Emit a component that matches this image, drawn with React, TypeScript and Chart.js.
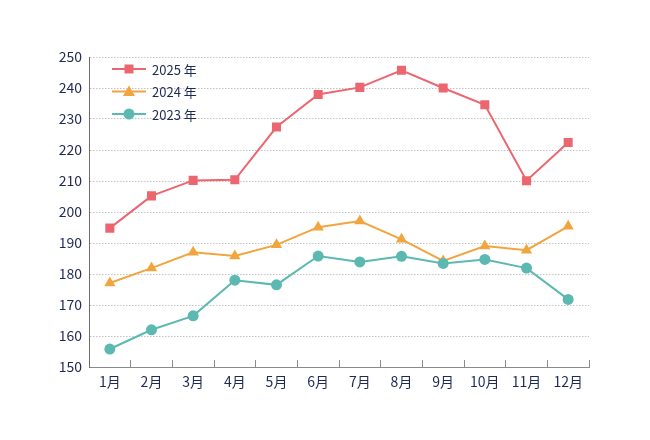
import React, { useEffect, useRef } from 'react'
import { Chart, registerables } from 'chart.js'

Chart.register(...registerables)

const months = ['1月', '2月', '3月', '4月', '5月', '6月', '7月', '8月', '9月', '10月', '11月', '12月']
const sales2025 = [194.8, 205.2, 210.2, 210.4, 227.4, 237.9, 240.2, 245.7, 240.0, 234.6, 210.1, 222.4]
const sales2024 = [177.1, 181.9, 187.0, 185.8, 189.4, 195.1, 197.1, 191.2, 184.2, 189.0, 187.7, 195.4]
const sales2023 = [155.8, 162.0, 166.5, 178.0, 176.5, 185.8, 183.9, 185.7, 183.4, 184.7, 181.9, 171.8]
const yTicks = [150, 160, 170, 180, 190, 200, 210, 220, 230, 240, 250]

const RED = '#ec6670'
const ORANGE = '#f1a53f'
const TEAL = '#5cb9b1'
const NAVY = '#1e2a55'
const FONT = "'Noto Sans CJK JP', 'Noto Sans', sans-serif"

// draws one marker shape centred on x,y
function drawMarker(ctx: CanvasRenderingContext2D, style: string, x: number, y: number, color: string) {
	ctx.fillStyle = color
	ctx.beginPath()
	if (style === 'rect') {
		ctx.rect(x - 4.5, y - 4.5, 9, 9)
	} else if (style === 'triangle') {
		ctx.moveTo(x, y - 6)
		ctx.lineTo(x + 6, y + 4.5)
		ctx.lineTo(x - 6, y + 4.5)
		ctx.closePath()
	} else {
		ctx.arc(x, y, 5.5, 0, Math.PI * 2)
	}
	ctx.fill()
}

// legend with a line through each marker, inside the top left of the plot
const lineLegend = {
	id: 'lineLegend',
	afterDraw(chart: any) {
		const { ctx, chartArea } = chart
		chart.data.datasets.forEach((ds: any, i: number) => {
			const x0 = chartArea.left + 23
			const y = chartArea.top + 12 + i * 22.5
			ctx.save()
			ctx.strokeStyle = ds.borderColor
			ctx.lineWidth = 2
			ctx.beginPath()
			ctx.moveTo(x0, y)
			ctx.lineTo(x0 + 34, y)
			ctx.stroke()
			drawMarker(ctx, ds.pointStyle, x0 + 17, y, ds.borderColor)
			ctx.fillStyle = NAVY
			ctx.font = `13px ${FONT}`
			ctx.textBaseline = 'middle'
			ctx.fillText(ds.label, x0 + 40, y + 1)
			ctx.restore()
		})
	},
}

const App: React.FC = () => {
	const chartRef = useRef<HTMLCanvasElement>(null)

	useEffect(() => {
		if (!chartRef.current) return
		const context = chartRef.current.getContext('2d')
		if (!context) return

		const chart = new Chart(context, {
			type: 'line',
			data: {
				labels: months,
				datasets: [
					{
						label: '2025 年',
						data: sales2025,
						borderColor: RED,
						backgroundColor: RED,
						pointStyle: 'rect',
						pointRadius: 6.4,
						pointHoverRadius: 6.4,
						pointBorderWidth: 0,
						borderWidth: 2,
						order: 2,
					},
					{
						label: '2024 年',
						data: sales2024,
						borderColor: ORANGE,
						backgroundColor: ORANGE,
						pointStyle: 'triangle',
						pointRadius: 6.5,
						pointHoverRadius: 6.5,
						pointBorderWidth: 0,
						borderWidth: 2,
						order: 1,
					},
					{
						label: '2023 年',
						data: sales2023,
						borderColor: TEAL,
						backgroundColor: TEAL,
						pointStyle: 'circle',
						pointRadius: 5.5,
						pointHoverRadius: 5.5,
						pointBorderWidth: 0,
						borderWidth: 2,
						order: 0,
					},
				],
			},
			options: {
				animation: false,
				responsive: true,
				maintainAspectRatio: false,
				layout: {
					padding: { left: 0, top: 57, right: 61, bottom: 0 },
				},
				plugins: {
					legend: { display: false },
					tooltip: { enabled: false },
				},
				scales: {
					x: {
						offset: true,
						grid: {
							offset: true,
							drawOnChartArea: false,
							drawTicks: true,
							tickLength: -7,
							color: '#8a8a8a',
						},
						border: { color: '#8a8a8a', width: 1 },
						ticks: {
							color: NAVY,
							padding: 13,
							font: { family: FONT, size: 14 },
						},
						afterFit: (scale: any) => {
							scale.height = 73
						},
					},
					y: {
						min: 150,
						max: 250,
						afterBuildTicks: (scale: any) => {
							scale.ticks = yTicks.map((v) => ({ value: v }))
						},
						grid: {
							drawTicks: false,
							color: '#c2c2c2',
							lineWidth: 1,
						},
						border: { color: '#6e6e6e', width: 1, dash: [1.5, 1.5] },
						ticks: {
							color: NAVY,
							padding: 7,
							font: { family: FONT, size: 14 },
						},
						afterFit: (scale: any) => {
							scale.width = 89
						},
					},
				},
			},
			plugins: [lineLegend],
		})

		return () => {
			chart.destroy()
		}
	}, [])

	return (
		<div style={{ position: 'absolute', left: 0, top: 0, width: 650, height: 440, background: '#fff' }}>
			<canvas ref={chartRef} />
		</div>
	)
}

export default App
